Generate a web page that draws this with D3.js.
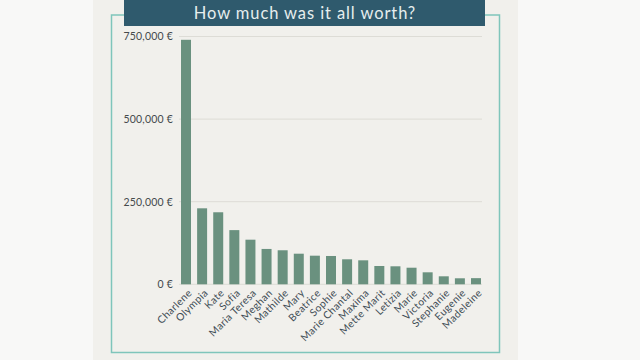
<!DOCTYPE html>
<html>
<head>
<meta charset="utf-8">
<script src="https://cdn.jsdelivr.net/npm/d3@7"></script>
<style>
  html, body { margin: 0; padding: 0; background: #f8f8f7; }
  svg { display: block; }
</style>
</head>
<body>
<script>
const names = ["Charlene","Olympia","Kate","Sofia","Maria Teresa","Meghan","Mathilde","Mary","Beatrice","Sophie","Marie Chantal","Maxima","Mette Marit","Letizia","Marie","Victoria","Stephanie","Eugenie","Madeleine"];
const worth = [740000,230000,218000,164000,135000,107000,103000,92600,86600,85700,75700,72600,55400,54500,50200,36300,24200,18200,18600];
const yTicks = [0,250000,500000,750000];
const title = "How much was it all worth?";

const W = 640, H = 360;
const svg = d3.select("body").append("svg").attr("width", W).attr("height", H);

// panel background
svg.append("rect").attr("x", 0).attr("y", 0).attr("width", W).attr("height", H).attr("fill", "#f8f8f7");
svg.append("rect").attr("x", 93).attr("y", 0).attr("width", 425).attr("height", H).attr("fill", "#f1f0ec");

// frame
svg.append("rect").attr("x", 111.5).attr("y", 15).attr("width", 388).attr("height", 337.5)
  .attr("fill", "none").attr("stroke", "#7fc5bb").attr("stroke-width", 1.5);

// title box
svg.append("rect").attr("x", 124).attr("y", 0).attr("width", 361).attr("height", 26).attr("fill", "#2f5a6d");
svg.append("text").attr("x", 305).attr("y", 19).attr("text-anchor", "middle")
  .attr("font-family", "Lato, sans-serif").attr("font-size", 16.5).attr("letter-spacing", 0.9)
  .attr("fill", "#e6eeee").text(title);

const x = d3.scaleBand().domain(names).range([179.4, 482.6]).paddingInner(0.38).paddingOuter(0.1);
const y = d3.scaleLinear().domain([0, 750000]).range([284.3, 36.5]);

// gridlines
svg.append("g").selectAll("line").data(yTicks).join("line")
  .attr("x1", 179).attr("x2", 482)
  .attr("y1", d => y(d)).attr("y2", d => y(d))
  .attr("stroke", "#dddcd6").attr("stroke-width", 1);

// y axis labels
const fmt = d3.format(",");
const yAxis = d3.axisLeft(y).tickValues(yTicks).tickSize(0).tickPadding(0).tickFormat(d => fmt(d) + " €");
const gy = svg.append("g").attr("transform", "translate(173,0)").call(yAxis);
gy.select(".domain").remove();
gy.selectAll("text").attr("font-family", "Lato, sans-serif").attr("font-size", 10.5).attr("letter-spacing", 0.2).attr("fill", "#454a4c");

// bars
svg.append("g").selectAll("rect").data(names).join("rect")
  .attr("x", d => x(d)).attr("width", x.bandwidth())
  .attr("y", (d, i) => y(worth[i])).attr("height", (d, i) => y(0) - y(worth[i]))
  .attr("fill", "#6a917f");

// x labels
const xAxis = d3.axisBottom(x).tickSize(0).tickPadding(0);
const gx = svg.append("g").attr("transform", "translate(0,289)").call(xAxis);
gx.select(".domain").remove();
gx.selectAll("text")
  .attr("font-family", "Lato, sans-serif").attr("font-size", 10.3).attr("letter-spacing", 0.4).attr("fill", "#3f4d55")
  .attr("text-anchor", "end").attr("dy", "0.35em")
  .attr("transform", "translate(4,2) rotate(-45)");
</script>
</body>
</html>
